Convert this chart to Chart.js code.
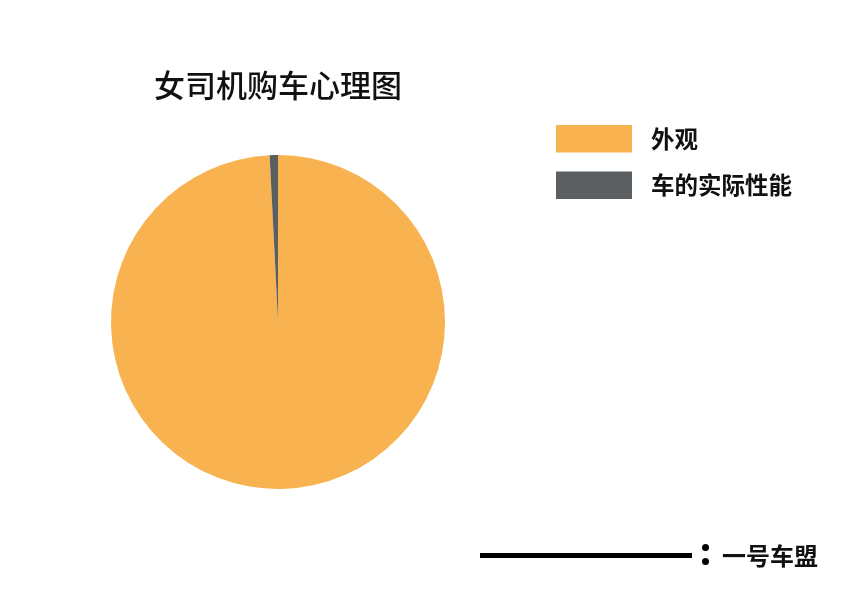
<!DOCTYPE html>
<html>
<head>
<meta charset="utf-8">
<script src="https://cdn.jsdelivr.net/npm/chart.js@4/dist/chart.umd.min.js"></script>
<style>
html,body{margin:0;padding:0;background:#fff;}
#wrap{width:852px;height:615px;position:relative;}
</style>
</head>
<body>
<div id="wrap"><canvas id="c" width="852" height="615"></canvas></div>
<script>
const titleText = '女司机购车心理图';
const categories = ['外观', '车的实际性能'];
const values = [99.2, 0.8];
const colors = ['#F8B250', '#5C5F62'];
const footerText = '一号车盟';

const FONT = '"Noto Sans CJK SC", "Noto Sans", sans-serif';

const customLegend = {
  id: 'customLegend',
  afterDraw(chart) {
    const ctx = chart.ctx;
    const ds = chart.data.datasets[0];
    ctx.save();
    chart.data.labels.forEach((lab, i) => {
      const y = 125 + i * 46.5;
      ctx.fillStyle = ds.backgroundColor[i];
      ctx.fillRect(556, y, 76, 27.5);
      ctx.fillStyle = '#111';
      ctx.font = 'bold 23.5px ' + FONT;
      ctx.textBaseline = 'middle';
      ctx.textAlign = 'left';
      ctx.fillText(lab, 651, y + 14);
    });
    // footer
    ctx.fillStyle = '#000';
    ctx.fillRect(480, 553, 212, 5);
    ctx.beginPath(); ctx.arc(705.5, 547.5, 3.5, 0, Math.PI * 2); ctx.fill();
    ctx.beginPath(); ctx.arc(705.5, 561.5, 3.5, 0, Math.PI * 2); ctx.fill();
    ctx.fillStyle = '#111';
    ctx.font = 'bold 24px ' + FONT;
    ctx.textBaseline = 'middle';
    ctx.fillText(footerText, 722, 556);
    ctx.restore();
  }
};

new Chart(document.getElementById('c'), {
  type: 'pie',
  data: {
    labels: categories,
    datasets: [{
      data: values,
      backgroundColor: colors,
      borderWidth: 0
    }]
  },
  options: {
    responsive: false,
    animation: false,
    layout: { padding: { left: 111, right: 407, top: 66.5, bottom: 126 } },
    plugins: {
      legend: { display: false },
      tooltip: { enabled: false },
      title: {
        display: true,
        text: titleText,
        color: '#111',
        font: { family: FONT, size: 31, weight: '500', lineHeight: 1.2 },
        padding: { top: 0, bottom: 51.3 }
      }
    }
  },
  plugins: [customLegend]
});
</script>
</body>
</html>
